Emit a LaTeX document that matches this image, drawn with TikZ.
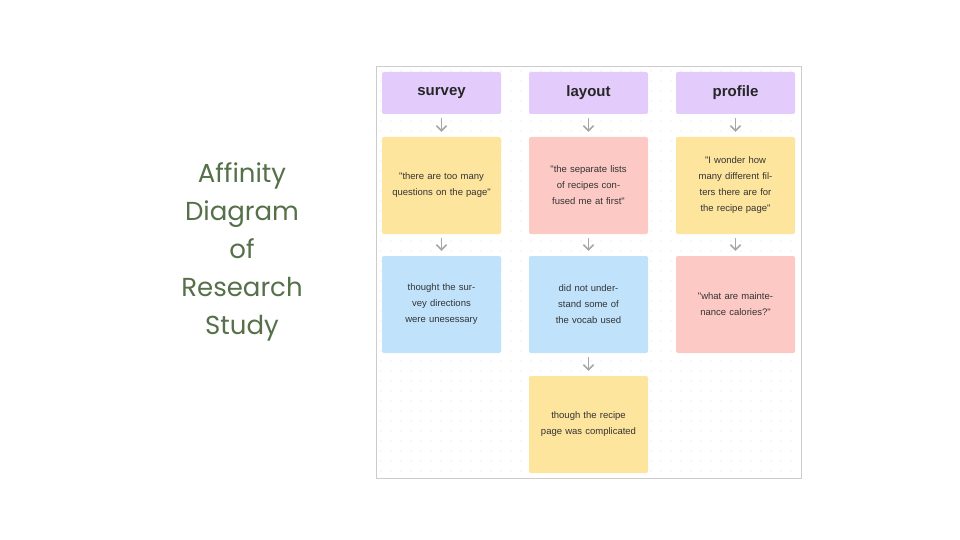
\documentclass[tikz,border=0pt]{standalone}
\usepackage{fontspec}
\setmainfont{Poppins}
\newfontfamily\stickyfont{Liberation Sans}
\begin{document}
\begin{tikzpicture}[x=1pt,y=-1pt,
  hdr/.style={fill=hdrc,draw=none,rounded corners=2pt,minimum width=119pt,minimum height=42pt,font=\stickyfont\fontsize{15}{18}\selectfont\bfseries,text=black!85},
  note/.style={draw=none,rounded corners=2pt,minimum width=119pt,minimum height=97pt,text width=100pt,align=center,font=\stickyfont\fontsize{9.5}{16}\selectfont,text=black!80},
  arr/.style={draw=gray!70,line width=1.6pt,-{Straight Barb[length=5pt,width=10pt]}}]
\usetikzlibrary{arrows.meta}
\definecolor{hdrc}{HTML}{E3CCFB}
\definecolor{yel}{HTML}{FDE59E}
\definecolor{pnk}{HTML}{FCC9C5}
\definecolor{blu}{HTML}{C0E3FB}
\definecolor{ttl}{HTML}{56704A}
\useasboundingbox (0,0) rectangle (960,540);
\fill[white] (0,0) rectangle (960,540);
\draw[gray!40,fill=white] (376,66) rectangle (801,478);
\foreach \i in {0,...,41} {\foreach \j in {0,...,40} {\fill[gray!25] (381+\i*10,71+\j*10) circle (0.55pt);}}
\node[font=\fontsize{26}{38}\selectfont,text=ttl,align=center] (title) at (242,252) {Affinity\\Diagram\\of\\Research\\Study};
\node[hdr] (h1) at (441.5,93) {survey};
\node[hdr] (h2) at (588.5,93) {layout};
\node[hdr] (h3) at (735.5,93) {profile};
\node[note,fill=yel] (a1) at (441.5,185.5) {"there are too many questions on the page"};
\node[note,fill=pnk] (b1) at (588.5,185.5) {"the separate lists of recipes confused me at first"};
\node[note,fill=yel] (c1) at (735.5,185.5) {"I wonder how many different filters there are for the recipe page"};
\node[note,fill=blu] (a2) at (441.5,304.5) {thought the survey directions were unesessary};
\node[note,fill=blu] (b2) at (588.5,304.5) {did not understand some of the vocab used};
\node[note,fill=pnk] (c2) at (735.5,304.5) {"what are maintenance calories?"};
\node[note,fill=yel] (b3) at (588.5,424.5) {though the recipe page was complicated};
\foreach \u/\v in {h1/a1,h2/b1,h3/c1,a1/a2,b1/b2,c1/c2,b2/b3}
  \draw[arr] ([yshift=-4pt]\u.south) -- ([yshift=5pt]\v.north);
\end{tikzpicture}
\end{document}
